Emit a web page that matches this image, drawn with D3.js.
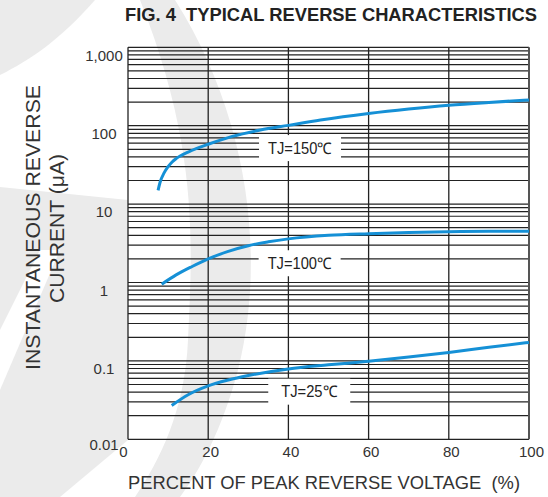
<!DOCTYPE html>
<html><head><meta charset="utf-8">
<script src="https://cdn.jsdelivr.net/npm/d3@7"></script>
<style>body{margin:0;background:#fff}svg{display:block}text{font-family:"Liberation Sans",Arial,sans-serif}</style>
</head><body>
<svg id="c" width="548" height="497"></svg>
<script>
const xTicks = [0, 20, 40, 60, 80, 100];
const yTicks = [0.01, 0.1, 1, 10, 100, 1000];
const yTickLabels = ["0.01", "0.1", "1", "10", "100", "1,000"];
const x150 = [7.5, 8, 9, 10, 11, 12, 13, 15, 17, 20, 26, 33, 40, 48, 60, 70, 80, 90, 100];
const y150 = [15, 19, 25, 30, 34.5, 38, 41, 46, 51, 58, 73, 88, 101, 118, 143, 163, 182, 198, 213];
const x100 = [8.4, 12, 16, 20, 25, 30, 35, 40, 50, 60, 70, 80, 90, 100];
const y100 = [0.95, 1.25, 1.6, 2.0, 2.5, 2.95, 3.3, 3.6, 4.0, 4.2, 4.35, 4.45, 4.5, 4.5];
const x25 = [10.9, 15, 20, 25, 30, 40, 50, 60, 70, 80, 90, 100];
const y25 = [0.027, 0.037, 0.048, 0.057, 0.065, 0.079, 0.089, 0.099, 0.112, 0.128, 0.149, 0.172];
const seriesLabels = ["TJ=150℃", "TJ=100℃", "TJ=25℃"];
const labelX = [42.9, 42.8, 45.2];
const labelY = [51.8, 1.76, 0.0405];

const svg = d3.select("#c");
const L = 128, R = 529, T = 47.3, B = 439.3;
const x = d3.scaleLinear().domain([0, 100]).range([L, R]);
const y = d3.scaleLog().domain([0.01, 1000]).range([B, T]);

// watermark
const wm = svg.append("g").attr("fill", "#ebebeb");
wm.append("path").attr("d", "M140,0 L175,0 C245,110 268,250 238,370 C222,430 200,470 180,497 L135,497 C160,460 185,410 188,340 C192,250 200,150 140,0 Z");
wm.append("path").attr("d", "M0,0 L95,0 C60,40 30,60 0,75 Z");
wm.append("path").attr("d", "M0,187 L128,200 L128,440 L60,497 L0,497 Z");
svg.append("path").attr("fill", "#fff").attr("d", "M0,330 L40,250 L60,250 L0,390 Z");

// grid
const g = svg.append("g");
const hVals = [];
for (let e = -2; e <= 2; e++) for (let k = 1; k <= 9; k++) hVals.push(k * Math.pow(10, e));
hVals.push(1000);
g.append("g").selectAll("line").data(hVals).join("line")
  .attr("x1", L).attr("x2", R).attr("y1", d => y(d)).attr("y2", d => y(d))
  .attr("stroke", "#222").attr("stroke-width", 1.2);
g.append("g").selectAll("line").data(xTicks).join("line")
  .attr("x1", d => x(d)).attr("x2", d => x(d)).attr("y1", T).attr("y2", B)
  .attr("stroke", d => d === 100 ? "#555" : "#222").attr("stroke-width", d => d === 100 ? 2 : 1.3);

// curves
const line = d3.line().x(d => x(d[0])).y(d => y(d[1])).curve(d3.curveMonotoneX);
[[x150, y150], [x100, y100], [x25, y25]].forEach(([xs, ys]) => {
  svg.append("path").datum(xs.map((v, i) => [v, ys[i]])).attr("d", line)
    .attr("fill", "none").attr("stroke", "#1590d6").attr("stroke-width", 3).attr("stroke-linecap", "butt");
});

// labels
seriesLabels.forEach((t, i) => {
  const cx = x(labelX[i]), cy = y(labelY[i]);
  svg.append("rect").attr("x", cx - 41).attr("y", cy - 13).attr("width", 82).attr("height", 26).attr("fill", "#fff");
  svg.append("text").attr("x", cx).attr("y", cy + 5.5).attr("text-anchor", "middle")
    .attr("font-size", 16).attr("fill", "#222")
    .attr("textLength", i === 2 ? 56 : 64).attr("lengthAdjust", "spacingAndGlyphs").text(t);
});

// axis ticks labels
const yAxis = d3.axisLeft(y).tickValues(yTicks).tickSize(0).tickFormat((d, i) => yTickLabels[i]);
const ya = svg.append("g").attr("transform", `translate(${L - 24},0)`).call(yAxis);
ya.select(".domain").remove();
ya.selectAll("text").attr("font-size", 15).attr("fill", "#333").attr("text-anchor", "middle")
  .attr("x", 0).attr("dy", (d) => d === 0.01 ? "0.7em" : "0.85em").style("font-family", '"Liberation Sans",Arial,sans-serif');

const xAxis = d3.axisBottom(x).tickValues(xTicks).tickSize(0).tickFormat(d3.format("d"));
const xa = svg.append("g").attr("transform", `translate(0,${B + 4})`).call(xAxis);
xa.select(".domain").remove();
xa.selectAll("text").attr("font-size", 15).attr("fill", "#333")
  .attr("dx", d => d === 0 ? -5 : 2).style("font-family", '"Liberation Sans",Arial,sans-serif');

// titles
svg.append("text").attr("x", 125).attr("y", 20.5).attr("text-anchor", "start")
  .attr("font-size", 17.5).attr("font-weight", "bold").attr("fill", "#222")
  .attr("textLength", 412).attr("lengthAdjust", "spacingAndGlyphs")
  .text("FIG. 4\u00a0\u00a0TYPICAL REVERSE CHARACTERISTICS");
svg.append("text").attr("x", 128).attr("y", 489).attr("text-anchor", "start")
  .attr("font-size", 19).attr("fill", "#333")
  .attr("textLength", 392).attr("lengthAdjust", "spacingAndGlyphs")
  .text("PERCENT OF PEAK REVERSE VOLTAGE\u00a0\u00a0(%)");
svg.append("text").attr("transform", "translate(39.5,370) rotate(-90)").attr("text-anchor", "start")
  .attr("font-size", 21).attr("fill", "#333")
  .attr("textLength", 285).attr("lengthAdjust", "spacingAndGlyphs").text("INSTANTANEOUS REVERSE");
svg.append("text").attr("transform", "translate(63.5,303) rotate(-90)").attr("text-anchor", "start")
  .attr("font-size", 21).attr("fill", "#333")
  .attr("textLength", 149).attr("lengthAdjust", "spacingAndGlyphs").text("CURRENT (μA)");
</script>
</body></html>
